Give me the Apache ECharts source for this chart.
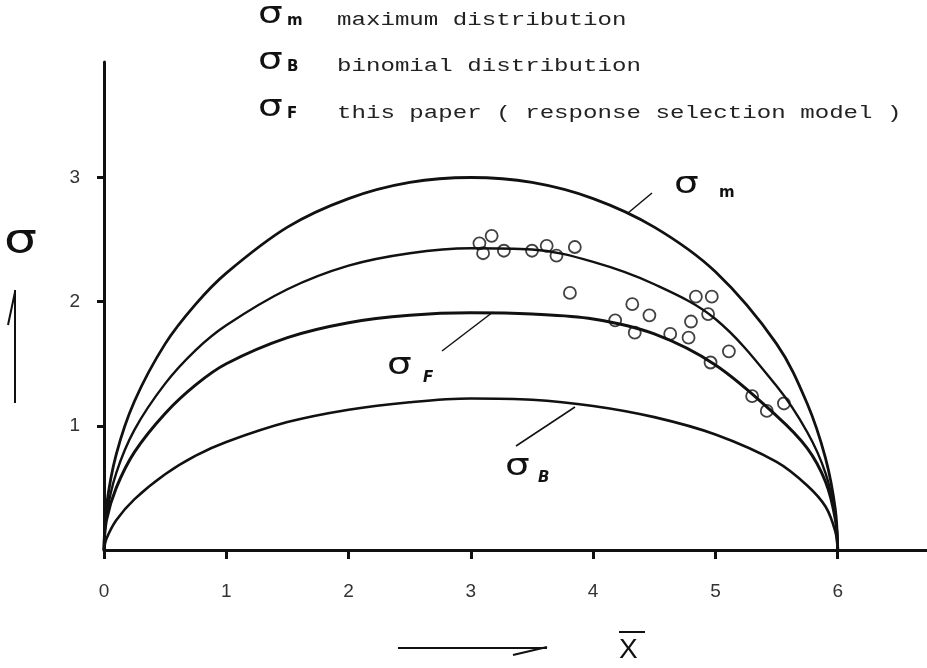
<!DOCTYPE html>
<html>
<head>
<meta charset="utf-8">
<script src="https://cdn.jsdelivr.net/npm/echarts@6/dist/echarts.min.js"></script>
<style>
  html, body { margin: 0; padding: 0; background: #fff; }
  #chart { width: 927px; height: 668px; }
</style>
</head>
<body>
<div id="chart"></div>
<script>
// Mean score X (0..6) at which each standard-deviation curve is sampled
const xSamples = [0, 0.02, 0.1, 0.25, 0.5, 0.75, 1, 1.5, 2, 2.5, 3, 3.5, 4, 4.5, 5, 5.5, 5.75, 5.9, 5.98, 6];

// sigma_m : maximum distribution
const sigmaMax = [0, 0.35, 0.77, 1.2, 1.66, 1.98, 2.23, 2.6, 2.83, 2.96, 3.0, 2.96, 2.83, 2.6, 2.24, 1.66, 1.18, 0.74, 0.33, 0];
// unlabelled curve running through the observed points
const sigmaUpper = [0, 0.28, 0.62, 0.97, 1.34, 1.61, 1.81, 2.1, 2.29, 2.39, 2.43, 2.42, 2.32, 2.14, 1.86, 1.32, 0.95, 0.62, 0.28, 0];
// sigma_F : response selection model
const sigmaF = [0, 0.24, 0.5, 0.79, 1.1, 1.33, 1.5, 1.71, 1.83, 1.89, 1.91, 1.9, 1.86, 1.74, 1.49, 1.08, 0.82, 0.55, 0.25, 0];
// sigma_B : binomial distribution
const sigmaB = [0, 0.09, 0.24, 0.41, 0.61, 0.76, 0.87, 1.03, 1.13, 1.19, 1.22, 1.21, 1.16, 1.07, 0.93, 0.71, 0.52, 0.35, 0.15, 0];

// observed (X, sigma) pairs
const obsX = [3.07, 3.17, 3.10, 3.27, 3.50, 3.62, 3.70, 3.85, 3.81, 4.32, 4.46, 4.18, 4.34, 4.63, 4.78, 4.80, 4.84, 4.97, 4.94, 5.11, 4.96, 5.30, 5.42, 5.56];
const obsY = [2.47, 2.53, 2.39, 2.41, 2.41, 2.45, 2.37, 2.44, 2.07, 1.98, 1.89, 1.85, 1.75, 1.74, 1.71, 1.84, 2.04, 2.04, 1.90, 1.60, 1.51, 1.24, 1.12, 1.18];

// axis ticks
const xTicks = [0, 1, 2, 3, 4, 5, 6];
const yTicks = [1, 2, 3];

const pair = (xs, ys) => xs.map((x, i) => [x, ys[i]]);

const chart = echarts.init(document.getElementById('chart'), null, { renderer: 'canvas' });

const ink = '#111';
const tickFont = { fontFamily: 'Liberation Sans', fontSize: 19, color: '#333' };

function curve(name, values, width) {
  return {
    name, type: 'line', data: pair(xSamples, values),
    smooth: 0.35, showSymbol: false, silent: true,
    lineStyle: { color: ink, width: width }
  };
}

const subStyle = { fontFamily: 'DejaVu Sans', fontSize: 15, fontWeight: 'bold', fill: ink };
const legendText = { fontFamily: 'Liberation Mono', fontSize: 18, fill: '#222' };

// a wide sigma glyph, top-left corner at (x, y)
function sigma(x, y, size) {
  return {
    type: 'text', x: x, y: y, scaleX: 1.3,
    style: { text: 'σ', fontFamily: 'DejaVu Sans', fontSize: size || 30, fill: ink }
  };
}
function sub(x, y, letter, italic) {
  return { type: 'text', x: x, y: y, style: Object.assign({}, subStyle, { text: letter, fontStyle: italic ? 'italic' : 'normal' }) };
}
function keyLine(x, y, text) {
  return { type: 'text', x: x, y: y - 9, scaleX: 1.34, style: Object.assign({ text }, legendText) };
}
function seg(x1, y1, x2, y2, w) {
  return { type: 'line', shape: { x1, y1, x2, y2 }, style: { stroke: ink, lineWidth: w || 1.5 } };
}

const graphics = [
  // key
  sigma(258, 0), sub(287, 14, 'm'),
  keyLine(337, 20, 'maximum distribution'),
  sigma(258, 46), sub(287, 60, 'B'),
  keyLine(337, 66, 'binomial distribution'),
  sigma(258, 93), sub(287, 107, 'F'),
  keyLine(337, 113, 'this paper ( response selection model )'),

  // curve labels with leader lines
  sigma(674, 170), sub(719, 186, 'm'),
  seg(628, 213, 652, 193),

  sigma(387, 351), sub(423, 371, 'F', true),
  seg(442, 351, 493, 312),

  sigma(505, 452), sub(538, 471, 'B', true),
  seg(516, 446, 575, 407),

  // vertical axis title with arrow
  sigma(4, 222, 40),
  seg(15, 290, 15, 403, 2),
  seg(15, 292, 8, 325, 2),

  // horizontal axis title with arrow
  seg(398, 648, 547, 648, 2),
  seg(547, 647, 513, 655, 2),
  { type: 'text', x: 619, y: 636, style: { text: 'X', fontFamily: 'Liberation Sans', fontSize: 28, fill: ink } },
  seg(619, 632, 645, 632, 2)
];

chart.setOption({
  animation: false,
  backgroundColor: '#fff',
  grid: { left: 104, right: 0, top: 62, bottom: 118, containLabel: false },
  xAxis: {
    type: 'value', min: 0, max: 6.73,
    axisLine: { lineStyle: { color: ink, width: 3 } },
    axisTick: { customValues: xTicks, length: 9, lineStyle: { color: ink, width: 3 } },
    axisLabel: Object.assign({ customValues: xTicks, margin: 32 }, tickFont),
    splitLine: { show: false }
  },
  yAxis: {
    type: 'value', min: 0, max: 3.93,
    axisLine: { show: true, lineStyle: { color: ink, width: 3 } },
    axisTick: { show: true, customValues: yTicks, length: 7, lineStyle: { color: ink, width: 3 } },
    axisLabel: Object.assign({ customValues: yTicks, margin: 24 }, tickFont),
    splitLine: { show: false }
  },
  series: [
    curve('σm', sigmaMax, 2.8),
    curve('upper', sigmaUpper, 2.4),
    curve('σF', sigmaF, 3),
    curve('σB', sigmaB, 2.6),
    {
      name: 'observed', type: 'scatter', data: pair(obsX, obsY),
      symbol: 'circle', symbolSize: 12, silent: true,
      itemStyle: { color: 'rgba(255,255,255,0)', borderColor: ink, borderWidth: 1.8 },
      z: 5
    }
  ],
  graphic: graphics
});
</script>
</body>
</html>
